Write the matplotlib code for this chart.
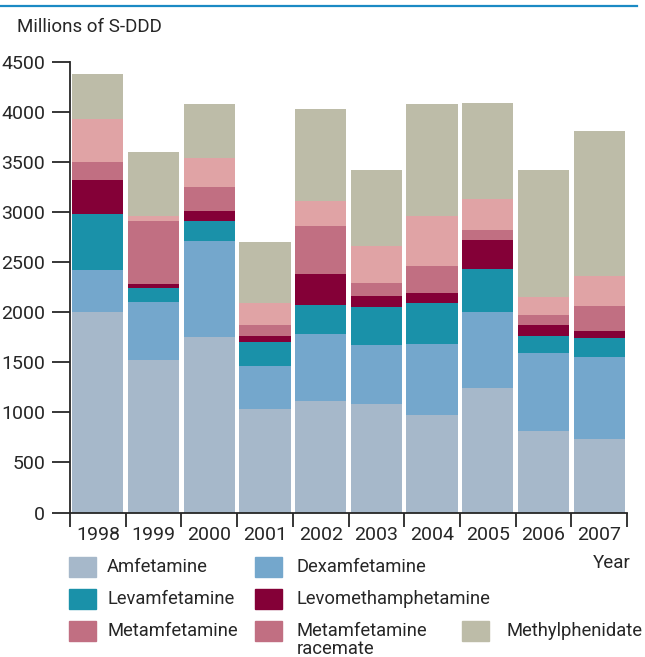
import numpy as np
import matplotlib
matplotlib.use("Agg")
import matplotlib.pyplot as plt
from matplotlib.patches import Rectangle
from matplotlib.lines import Line2D

plt.rcParams['font.family'] = ['Roboto', 'DejaVu Sans']

years = ['1998', '1999', '2000', '2001', '2002', '2003', '2004', '2005', '2006', '2007']

# millions of S-DDD per substance (stack order bottom -> top)
amfetamine          = [2005, 1525, 1755, 1035, 1115, 1085, 975, 1245, 815, 735]
dexamfetamine       = [420, 580, 960, 430, 670, 590, 710, 760, 780, 820]
levamfetamine       = [560, 140, 200, 240, 290, 380, 410, 430, 170, 190]
levomethamphetamine = [340, 40, 100, 60, 310, 110, 100, 290, 110, 70]
metamfetamine       = [180, 630, 240, 110, 480, 130, 270, 100, 100, 250]
metamf_racemate     = [430, 50, 290, 220, 250, 370, 500, 310, 180, 300]
methylphenidate     = [450, 640, 540, 610, 920, 760, 1120, 960, 1270, 1450]

series = [amfetamine, dexamfetamine, levamfetamine, levomethamphetamine,
          metamfetamine, metamf_racemate, methylphenidate]
labels = ['Amfetamine', 'Dexamfetamine', 'Levamfetamine', 'Levomethamphetamine',
          'Metamfetamine', 'Metamfetamine\nracemate', 'Methylphenidate']
colors = ['#A6B8CA', '#74A7CC', '#1A91A9', '#840037', '#C16F82', '#E0A3A5', '#BDBCA8']
# the legend in the source shows the racemate swatch in the darker pink
legend_colors = ['#A6B8CA', '#74A7CC', '#1A91A9', '#840037', '#C16F82', '#C16F82', '#BDBCA8']

W, H = 645, 657
fig = plt.figure(figsize=(W / 100, H / 100), dpi=100)

def fx(px):
    return px / W

def fy(py):
    return 1 - py / H

ax = fig.add_axes([fx(70), fy(512.5), fx(627) - fx(70), fy(62.3) - fy(512.5)])

x = np.arange(len(years))
bottom = np.zeros(len(years))
for vals, c in zip(series, colors):
    ax.bar(x, vals, width=0.92, bottom=bottom, color=c, linewidth=0)
    bottom += np.array(vals)

ax.set_xlim(-0.5, len(years) - 0.5)
ax.set_ylim(0, 4500)
ax.set_yticks(np.arange(0, 4501, 500))
ax.set_xticks(x)
ax.set_xticklabels(years)
ax.set_xticks(np.arange(-0.5, len(years)), minor=True)

dark = '#262626'
for s in ['top', 'right']:
    ax.spines[s].set_visible(False)
for s in ['left', 'bottom']:
    ax.spines[s].set_color(dark)
    ax.spines[s].set_linewidth(1.3)
ax.tick_params(axis='y', length=13, width=1.3, color=dark, labelsize=14,
               labelcolor=dark, pad=5)
ax.tick_params(axis='x', which='major', length=0, labelsize=14, labelcolor=dark, pad=10)
ax.tick_params(axis='x', which='minor', length=10, width=1.3, color=dark)

# top rule and unit label
fig.add_artist(Line2D([0, fx(637)], [fy(6), fy(6)], color='#1B8AC4', lw=1.6))
fig.text(fx(17), fy(27), 'Millions of S-DDD', fontsize=13.5, color=dark,
         ha='left', va='center')
fig.text(fx(593), fy(563), 'Year', fontsize=13.5, color=dark, ha='left', va='center')

# legend built by hand
sw = [69, 255, 462]
tx = [107, 297, 507]
rows = [567, 598.5, 630.5]
slots = [(0, 0), (0, 1), (1, 0), (1, 1), (2, 0), (2, 1), (2, 2)]
for (r, c), lab, col in zip(slots, labels, legend_colors):
    yc = rows[r]
    fig.add_artist(Rectangle((fx(sw[c]), fy(yc + 10)), fx(27), fy(0) - fy(20),
                             color=col, transform=fig.transFigure))
    for i, line in enumerate(lab.split('\n')):
        fig.text(fx(tx[c]), fy(yc + 19 * i), line, fontsize=13.2, color=dark,
                 ha='left', va='center')

fig.savefig('out.png', dpi=100)
